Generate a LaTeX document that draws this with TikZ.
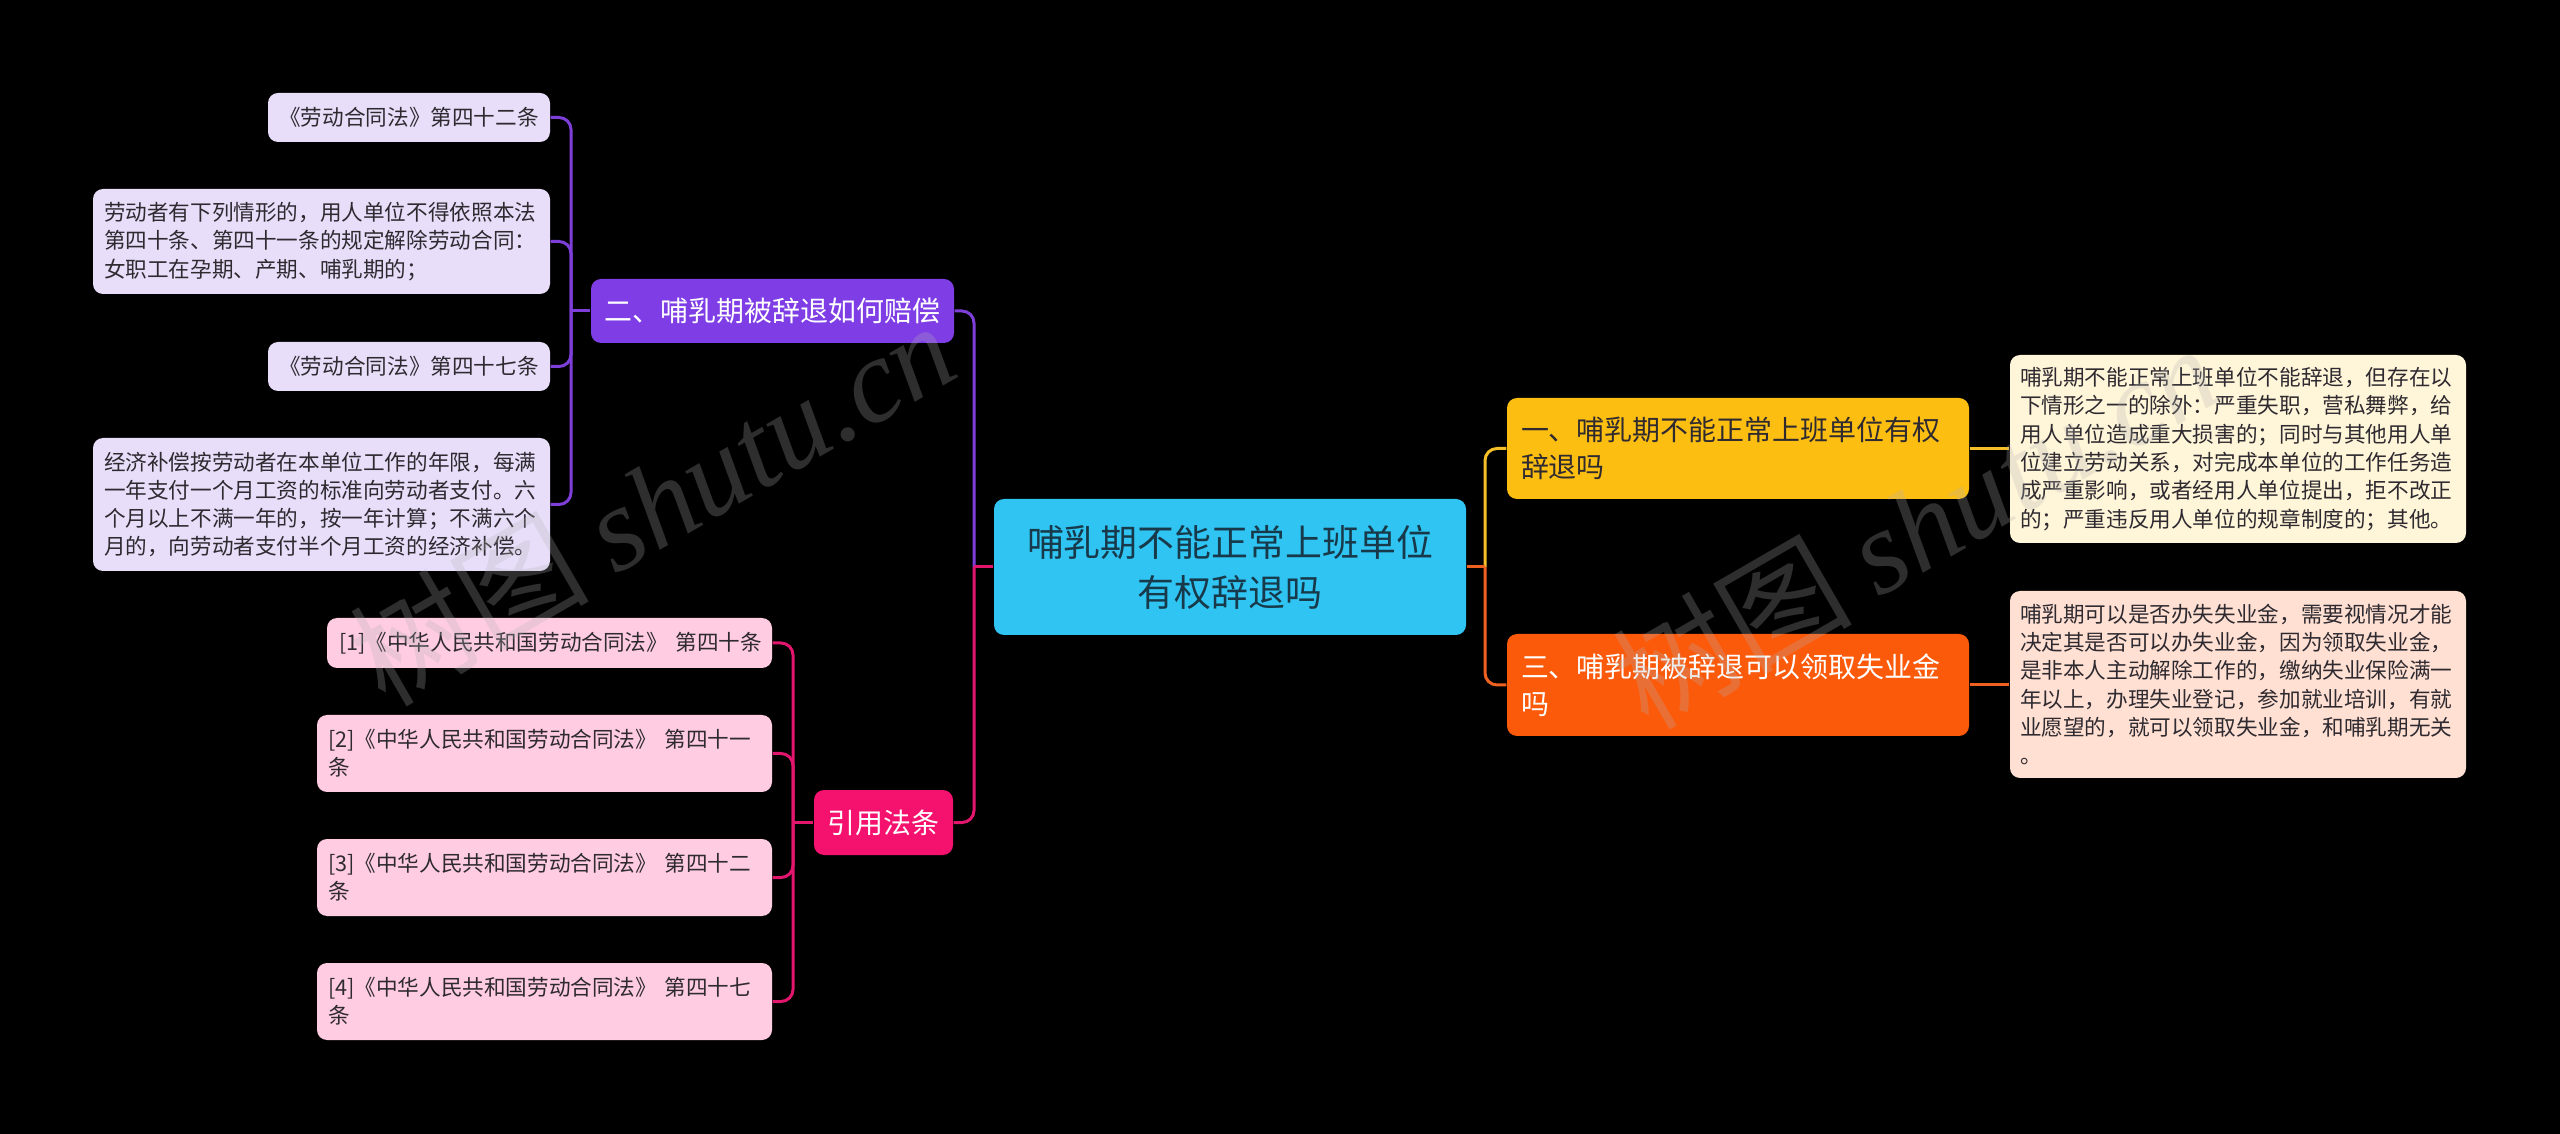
\documentclass[tikz,border=0pt]{standalone}
\usepackage{fontspec}
\setmainfont{Noto Sans CJK SC}
\newfontfamily\wmserif{Liberation Serif}
\newfontfamily\wmcjk{Noto Sans CJK SC}
\definecolor{cBlue}{HTML}{2FC4F2}
\definecolor{cBlueTxt}{HTML}{17394A}
\definecolor{cPurple}{HTML}{7F3DE6}
\definecolor{cPurpleLn}{HTML}{7E3FD8}
\definecolor{cLav}{HTML}{E8DEFA}
\definecolor{cPink}{HTML}{F5116E}
\definecolor{cPinkLn}{HTML}{E3166E}
\definecolor{cPinkLt}{HTML}{FFCCE2}
\definecolor{cAmber}{HTML}{FDBE12}
\definecolor{cAmberLn}{HTML}{F5BF2A}
\definecolor{cOrange}{HTML}{FC5A0B}
\definecolor{cOrangeLn}{HTML}{EE6120}
\definecolor{cCream}{HTML}{FFF5D9}
\definecolor{cPeach}{HTML}{FFE0D3}
\definecolor{cDark}{HTML}{2E2A30}
\tikzset{
  box/.style={rounded corners=1mm, inner sep=0pt, draw=none},
  smalltxt/.style={font=\fontsize{6.15pt}{8.05pt}\selectfont},
  midtxt/.style={font=\fontsize{7.95pt}{10.4pt}\selectfont},
  bigtxt/.style={font=\fontsize{10.5pt}{14.2pt}\selectfont},
  lav/.style={box, fill=cLav, text=cDark, smalltxt},
  pinklt/.style={box, fill=cPinkLt, text=cDark, smalltxt},
  link/.style={line width=0.3mm},
  rc/.style={rounded corners=1.2mm},
  wm/.style={text=gray!60, opacity=0.26, font=\fontsize{34pt}{34pt}\selectfont, inner sep=0pt}
}
\begin{document}
\begin{tikzpicture}[x=0.1mm,y=-0.1mm]
\useasboundingbox[fill=black] (0,0) rectangle (2560,1134);

% central
\node[box, fill=cBlue, text=cBlueTxt, bigtxt, align=center, minimum width=47.2mm, minimum height=13.6mm] (c) at (1230,567) {哺乳期不能正常上班单位\\有权辞退吗};

% left purple branch
\node[box, fill=cPurple, text=white, midtxt, minimum width=36.3mm, minimum height=6.4mm] (b2) at (772.5,311) {二、哺乳期被辞退如何赔偿};
\node[lav, minimum width=28.2mm, minimum height=4.9mm] (a1) at (409,117.5) {《劳动合同法》第四十二条};
\node[lav, align=left, text width=43.5mm, inner xsep=1.1mm, minimum height=10.5mm] (a2) at (321.5,241.5) {劳动者有下列情形的，用人单位不得依照本法\\第四十条、第四十一条的规定解除劳动合同：\\女职工在孕期、产期、哺乳期的；};
\node[lav, minimum width=28.2mm, minimum height=4.9mm] (a3) at (409,366.5) {《劳动合同法》第四十七条};
\node[lav, align=left, text width=43.5mm, inner xsep=1.1mm, minimum height=13.3mm] (a4) at (321.5,504.5) {经济补偿按劳动者在本单位工作的年限，每满\\一年支付一个月工资的标准向劳动者支付。六\\个月以上不满一年的，按一年计算；不满六个\\月的，向劳动者支付半个月工资的经济补偿。};

% left pink branch
\node[box, fill=cPink, text=white, midtxt, minimum width=13.9mm, minimum height=6.5mm] (q) at (883.5,822.5) {引用法条};
\node[pinklt, align=left, text width=42.1mm, inner xsep=1.2mm, minimum height=5mm] (p1) at (549.5,643) {[1]《中华人民共和国劳动合同法》~第四十条};
\node[pinklt, align=left, text width=43.3mm, inner xsep=1.1mm, minimum height=7.7mm] (p2) at (544.5,753.5) {[2]《中华人民共和国劳动合同法》~第四十一\\条};
\node[pinklt, align=left, text width=43.3mm, inner xsep=1.1mm, minimum height=7.7mm] (p3) at (544.5,877.5) {[3]《中华人民共和国劳动合同法》~第四十二\\条};
\node[pinklt, align=left, text width=43.3mm, inner xsep=1.1mm, minimum height=7.7mm] (p4) at (544.5,1001.5) {[4]《中华人民共和国劳动合同法》~第四十七\\条};

% right branches
\node[box, fill=cAmber, text=cDark, midtxt, align=left, text width=43.4mm, inner xsep=1.4mm, minimum height=10.1mm] (y) at (1738,448.5) {一、哺乳期不能正常上班单位有权\\辞退吗};
\node[box, fill=cOrange, text=white, midtxt, align=left, text width=43.4mm, inner xsep=1.4mm, minimum height=10.2mm] (o) at (1738,685) {三、哺乳期被辞退可以领取失业金\\吗};
\node[box, fill=cCream, text=cDark, smalltxt, align=left, text width=43.6mm, inner xsep=1mm, minimum height=18.8mm] (r1) at (2238,449) {哺乳期不能正常上班单位不能辞退，但存在以\\下情形之一的除外：严重失职，营私舞弊，给\\用人单位造成重大损害的；同时与其他用人单\\位建立劳动关系，对完成本单位的工作任务造\\成严重影响，或者经用人单位提出，拒不改正\\的；严重违反用人单位的规章制度的；其他。};
\node[box, fill=cPeach, text=cDark, smalltxt, align=left, text width=43.6mm, inner xsep=1mm, minimum height=18.7mm] (r3) at (2238,684.5) {哺乳期可以是否办失失业金，需要视情况才能\\决定其是否可以办失业金，因为领取失业金，\\是非本人主动解除工作的，缴纳失业保险满一\\年以上，办理失业登记，参加就业培训，有就\\业愿望的，就可以领取失业金，和哺乳期无关\\。};

% junction coordinates
\coordinate (jL) at (974,567);
\coordinate (jR) at (1485,567);
\coordinate (jB) at (571,311);
\coordinate (jQ) at (793,822.5);

% connectors left
\draw[link, cPurpleLn] (c.west) -- (jL);
\draw[link, cPurpleLn, rc] (jL) |- (b2.east);
\draw[link, cPinkLn] (c.west) -- (jL);
\draw[link, cPinkLn, rc] (jL) |- (q.east);
\draw[link, cPurpleLn] (b2.west) -- (jB);
\foreach \n in {a1,a2,a3,a4} \draw[link, cPurpleLn, rc] (jB) |- (\n.east);
\draw[link, cPinkLn] (q.west) -- (jQ);
\foreach \n in {p1,p2,p3,p4} \draw[link, cPinkLn, rc] (jQ) |- (\n.east);

% connectors right
\draw[link, cAmberLn] (c.east) -- (jR);
\draw[link, cAmberLn, rc] (jR) |- (y.west);
\draw[link, cOrangeLn] (c.east) -- (jR);
\draw[link, cOrangeLn, rc] (jR) |- (o.west);
\draw[link, cAmberLn] (y.east) -- (y.east -| r1.west);
\draw[link, cOrangeLn] (o.east) -- (o.east -| r3.west);

% watermarks
\node[wm, rotate=30] (wm1) at (652,502) {\wmcjk 树图 \wmserif\itshape shutu.cn};
\node[wm, rotate=30] (wm2) at (1915,525) {\wmcjk 树图 \wmserif\itshape shutu.cn};
\end{tikzpicture}
\end{document}
